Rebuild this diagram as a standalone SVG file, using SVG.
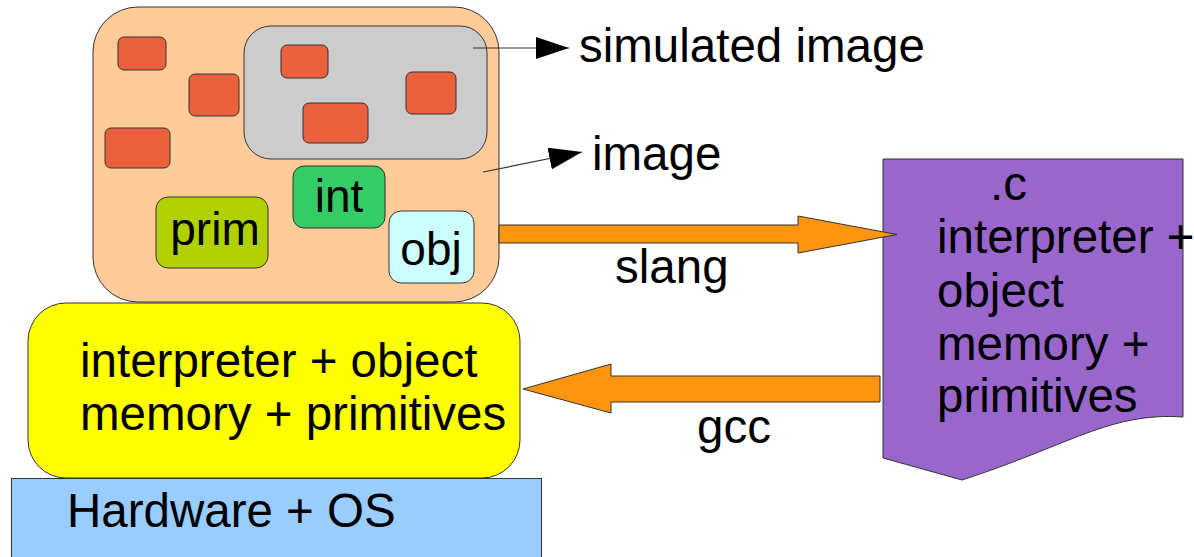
<svg xmlns="http://www.w3.org/2000/svg" width="1194" height="557" viewBox="0 0 1194 557">
<style>
text{font-family:"Liberation Sans",Arial,sans-serif;fill:#000;font-size:47.5px}
.sm{font-size:46px}
.shape{stroke:#333;stroke-width:1}
.red{fill:#eb613d;stroke:#333;stroke-width:1}
.conn{stroke:#333;stroke-width:1.2;fill:none}
.big{fill:#ff950e;stroke:#333;stroke-width:1}
</style>
<defs>
<marker id="ah" markerUnits="userSpaceOnUse" markerWidth="34" markerHeight="22" refX="33" refY="11" orient="auto">
<path d="M0,0 L33,11 L0,22 Z" fill="#000"/>
</marker>
</defs>
<rect width="1194" height="557" fill="#fff"/>
<g id="hardware">
<rect class="shape" x="11.5" y="478.5" width="530" height="90" fill="#99ccff"/>
<text x="67" y="527">Hardware + OS</text>
</g>
<g id="vm">
<rect class="shape" x="28" y="303" width="492" height="175" rx="38" fill="#ffff00"/>
<text x="80" y="377">interpreter + object</text>
<text x="80" y="430">memory + primitives</text>
</g>
<g id="image">
<rect class="shape" x="93" y="7" width="406" height="295" rx="45" fill="#ffcc99"/>
<rect class="red" x="118" y="37" width="48" height="33" rx="6"/>
<rect class="red" x="189" y="74" width="50" height="42" rx="6"/>
<rect class="red" x="105" y="128" width="65" height="40" rx="6"/>
</g>
<g id="simulated-image">
<rect class="shape" x="244" y="26" width="243" height="133" rx="27" fill="#cccccc"/>
<rect class="red" x="281" y="45" width="47" height="33" rx="6"/>
<rect class="red" x="406" y="72" width="50" height="42" rx="6"/>
<rect class="red" x="303" y="103" width="65" height="40" rx="6"/>
</g>
<g id="int">
<rect class="shape" x="293" y="166" width="92" height="62" rx="11" fill="#33cc66"/>
<text class="sm" x="339" y="212" text-anchor="middle">int</text>
</g>
<g id="prim">
<rect class="shape" x="156" y="197" width="112" height="71" rx="12" fill="#b0d000"/>
<text class="sm" x="215" y="245" text-anchor="middle">prim</text>
</g>
<g id="obj">
<rect class="shape" x="389" y="211" width="85" height="72" rx="12" fill="#ccffff"/>
<text class="sm" x="431" y="265" text-anchor="middle">obj</text>
</g>
<g id="c-source">
<path class="shape" d="M883,159 L1183,159 L1183,417 C1110,412 1070,445 962,480 L883,458 Z" fill="#9966cc"/>
<text x="990" y="200">.c</text>
<text x="937" y="253">interpreter +</text>
<text x="937" y="307">object</text>
<text x="937" y="360">memory +</text>
<text x="937" y="412">primitives</text>
</g>
<g id="connectors">
<path class="big" d="M499,225 L798,225 L798,216 L897,234.5 L798,253 L798,243 L499,243 Z"/>
<path class="big" d="M880,376 L611,376 L611,364 L523,389 L611,413 L611,402 L880,402 Z"/>
<line class="conn" x1="473" y1="48" x2="569" y2="48" marker-end="url(#ah)"/>
<line class="conn" x1="483" y1="172" x2="582" y2="152" marker-end="url(#ah)"/>
</g>
<g id="labels">
<text x="579" y="62">simulated image</text>
<text x="592" y="170">image</text>
<text x="615" y="283">slang</text>
<text x="697" y="443">gcc</text>
</g>
</svg>
